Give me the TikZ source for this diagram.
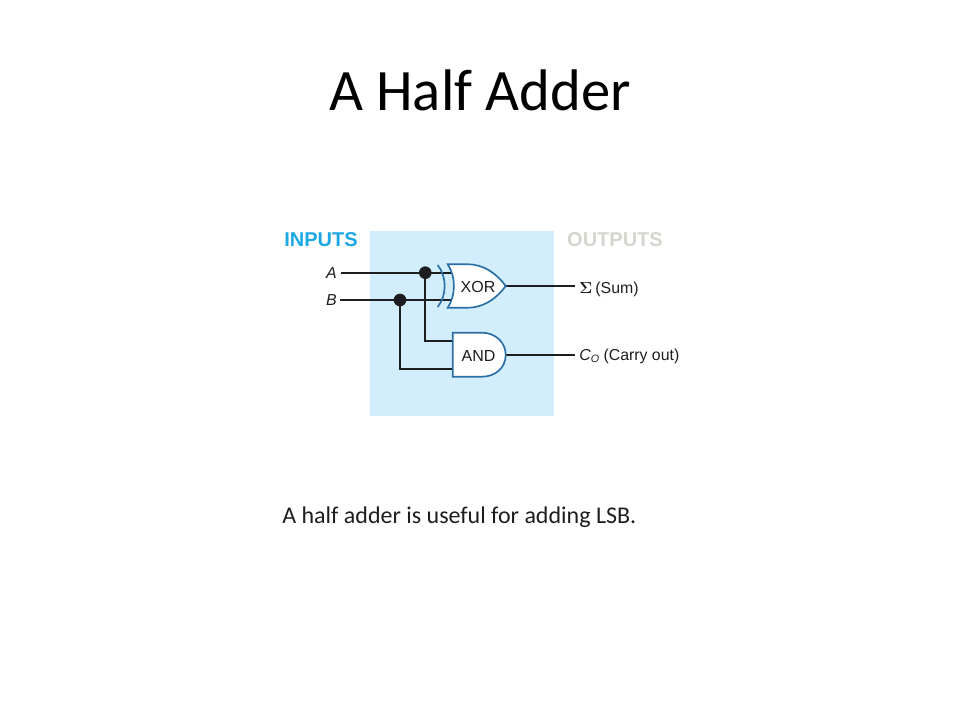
\documentclass[tikz,border=0pt]{standalone}
\usepackage{amsmath,amssymb}
\usepackage{fontspec}
\setmainfont{Liberation Sans}
\newfontfamily\slidefont{Carlito}
\usepackage{xcolor}
\definecolor{panelblue}{HTML}{D2EEFD}
\definecolor{gateblue}{HTML}{2A6EA6}
\definecolor{inputblue}{HTML}{1CA8E3}
\definecolor{outputgray}{HTML}{D6D4CE}
\definecolor{wireblack}{HTML}{1E1E20}
\tikzset{
  wire/.style={draw=wireblack,line width=1.6pt},
  gatebody/.style={draw=gateblue,fill=white,line width=1.25pt},
  dot/.style={circle,fill=wireblack,inner sep=0pt,minimum size=9.5pt},
  heading/.style={inner sep=0pt,font=\fontsize{15}{18}\selectfont\bfseries},
  gatetext/.style={inner sep=0pt,text=wireblack,font=\fontsize{12}{15}\selectfont},
  signal/.style={inner sep=0pt,text=wireblack,font=\fontsize{11.9}{14}\selectfont}
}
\begin{document}
\begin{tikzpicture}[x=0.75pt,y=-0.75pt]
\useasboundingbox (0,0) rectangle (960,720);
\node [inner sep=0pt,font=\slidefont\fontsize{44}{52}\selectfont] (title) at (480,90) {A Half Adder};
\node [inner sep=0pt,anchor=west,text=wireblack,font=\slidefont\fontsize{18}{22}\selectfont] (caption) at (282,517.5) {A half adder is useful for adding LSB.};
% panel behind the gates
\fill [panelblue] (370,231) rectangle (554,416);
\node [heading,text=inputblue] (inputs) at (321,239.5) {INPUTS};
\node [heading,text=outputgray] (outputs) at (615,239.5) {OUTPUTS};
% input labels
\node [signal,anchor=east] (A) at (337,272.7) {\textit{A}};
\node [signal,anchor=east] (B) at (337,299.7) {\textit{B}};
\coordinate (Aend) at (341,272.7);
\coordinate (Bend) at (340,300);
% junctions
\node [dot] (dotA) at (425.3,272.7) {};
\node [dot] (dotB) at (400,300) {};
% gate ports
\coordinate (xorA) at (453,272.7);
\coordinate (xorB) at (453,300);
\coordinate (andA) at (454,341);
\coordinate (andB) at (454,369);
\coordinate (xorOut) at (505.7,286);
\coordinate (andOut) at (505.7,355);
\coordinate (sumEnd) at (575,286);
\coordinate (carryEnd) at (575,355);
% wires
\draw [wire] (Aend) -- (dotA.center) -- (xorA);
\draw [wire] (Bend) -- (dotB.center) -- (xorB);
\draw [wire] (dotA.center) |- (andA);
\draw [wire] (dotB.center) |- (andB);
\draw [wire] (xorOut) -- (sumEnd);
\draw [wire] (andOut) -- (carryEnd);
% XOR gate
\draw [gatebody] (447.7,264.3) .. controls (456,277) and (456,295) .. (447.7,307.7)
  -- (468,307.7) .. controls (484,307.7) and (497,298) .. (xorOut)
  .. controls (497,274) and (484,264.3) .. (468,264.3) -- cycle;
\draw [draw=gateblue,line width=1.25pt] (437.7,265) .. controls (447,277) and (447,295) .. (437.7,307);
\node [gatetext] (xor) at (478,286.5) {XOR};
% AND gate
\draw [gatebody] (452.7,332.7) -- (482,332.7) .. controls (495,332.7) and (505.7,342) .. (andOut)
  .. controls (505.7,368) and (495,376.7) .. (482,376.7) -- (452.7,376.7) -- cycle;
\node [gatetext] (and) at (478.5,355.5) {AND};
% output labels
\node [signal,anchor=west] (sum) at (579,289) {\textbf{$\boldsymbol\Sigma$}\hspace{0.2em}(Sum)};
\node [signal,anchor=west] (carry) at (579,356.5) {\textit{C}\raisebox{-0.25ex}{\fontsize{8}{9}\selectfont\textit{O}} (Carry out)};
\end{tikzpicture}
\end{document}
